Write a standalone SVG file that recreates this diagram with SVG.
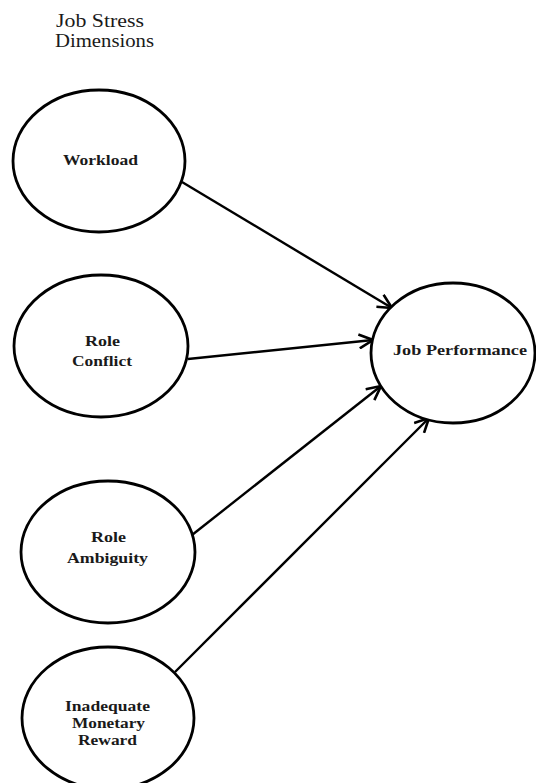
<svg xmlns="http://www.w3.org/2000/svg" width="536" height="783" viewBox="0 0 536 783">
<style>
.node ellipse{fill:#fff;stroke:#000;stroke-width:2.8}
.lbl{font-family:"Liberation Serif","Times New Roman",serif;font-weight:bold;font-size:15px;fill:#1a1a1a;text-anchor:middle}
.title{font-family:"Liberation Serif","Times New Roman",serif;font-size:19px;fill:#1a1a1a}
.conn line{stroke:#000;stroke-width:2.4;fill:none}
</style>
<defs>
<marker id="arr" viewBox="0 0 16 16" refX="15" refY="8" markerWidth="16" markerHeight="16" markerUnits="userSpaceOnUse" orient="auto">
<path d="M1,1 L15,8 L1,15" fill="none" stroke="#000" stroke-width="2.6"/>
</marker>
</defs>
<rect width="536" height="783" fill="#fff"/>
<g id="title">
<text class="title" x="56" y="27" textLength="88" lengthAdjust="spacingAndGlyphs">Job Stress</text>
<text class="title" x="55" y="47" textLength="99" lengthAdjust="spacingAndGlyphs">Dimensions</text>
</g>
<g class="conn" id="connectors">
<line x1="182" y1="182" x2="392" y2="308" marker-end="url(#arr)"/>
<line x1="188" y1="359" x2="373" y2="340" marker-end="url(#arr)"/>
<line x1="192" y1="535" x2="381" y2="386" marker-end="url(#arr)"/>
<line x1="175" y1="672" x2="429" y2="418" marker-end="url(#arr)"/>
</g>
<g class="node" id="workload">
<ellipse cx="99" cy="161" rx="86" ry="71"/>
<text class="lbl" x="100.5" y="165" textLength="75" lengthAdjust="spacingAndGlyphs">Workload</text>
</g>
<g class="node" id="role-conflict">
<ellipse cx="101" cy="346" rx="87" ry="71"/>
<text class="lbl" x="102.5" y="346" textLength="35" lengthAdjust="spacingAndGlyphs">Role</text>
<text class="lbl" x="102" y="366" textLength="60" lengthAdjust="spacingAndGlyphs">Conflict</text>
</g>
<g class="node" id="role-ambiguity">
<ellipse cx="108" cy="552" rx="87" ry="71"/>
<text class="lbl" x="108.5" y="542" textLength="35" lengthAdjust="spacingAndGlyphs">Role</text>
<text class="lbl" x="107.5" y="563" textLength="81" lengthAdjust="spacingAndGlyphs">Ambiguity</text>
</g>
<g class="node" id="inadequate-monetary-reward">
<ellipse cx="108" cy="718" rx="86" ry="71"/>
<text class="lbl" x="107.5" y="711" textLength="85" lengthAdjust="spacingAndGlyphs">Inadequate</text>
<text class="lbl" x="108.5" y="728" textLength="73" lengthAdjust="spacingAndGlyphs">Monetary</text>
<text class="lbl" x="107.5" y="745" textLength="59" lengthAdjust="spacingAndGlyphs">Reward</text>
</g>
<g class="node" id="job-performance">
<ellipse cx="453" cy="353" rx="82" ry="70"/>
<text class="lbl" x="460" y="355" textLength="134" lengthAdjust="spacingAndGlyphs">Job Performance</text>
</g>
</svg>
